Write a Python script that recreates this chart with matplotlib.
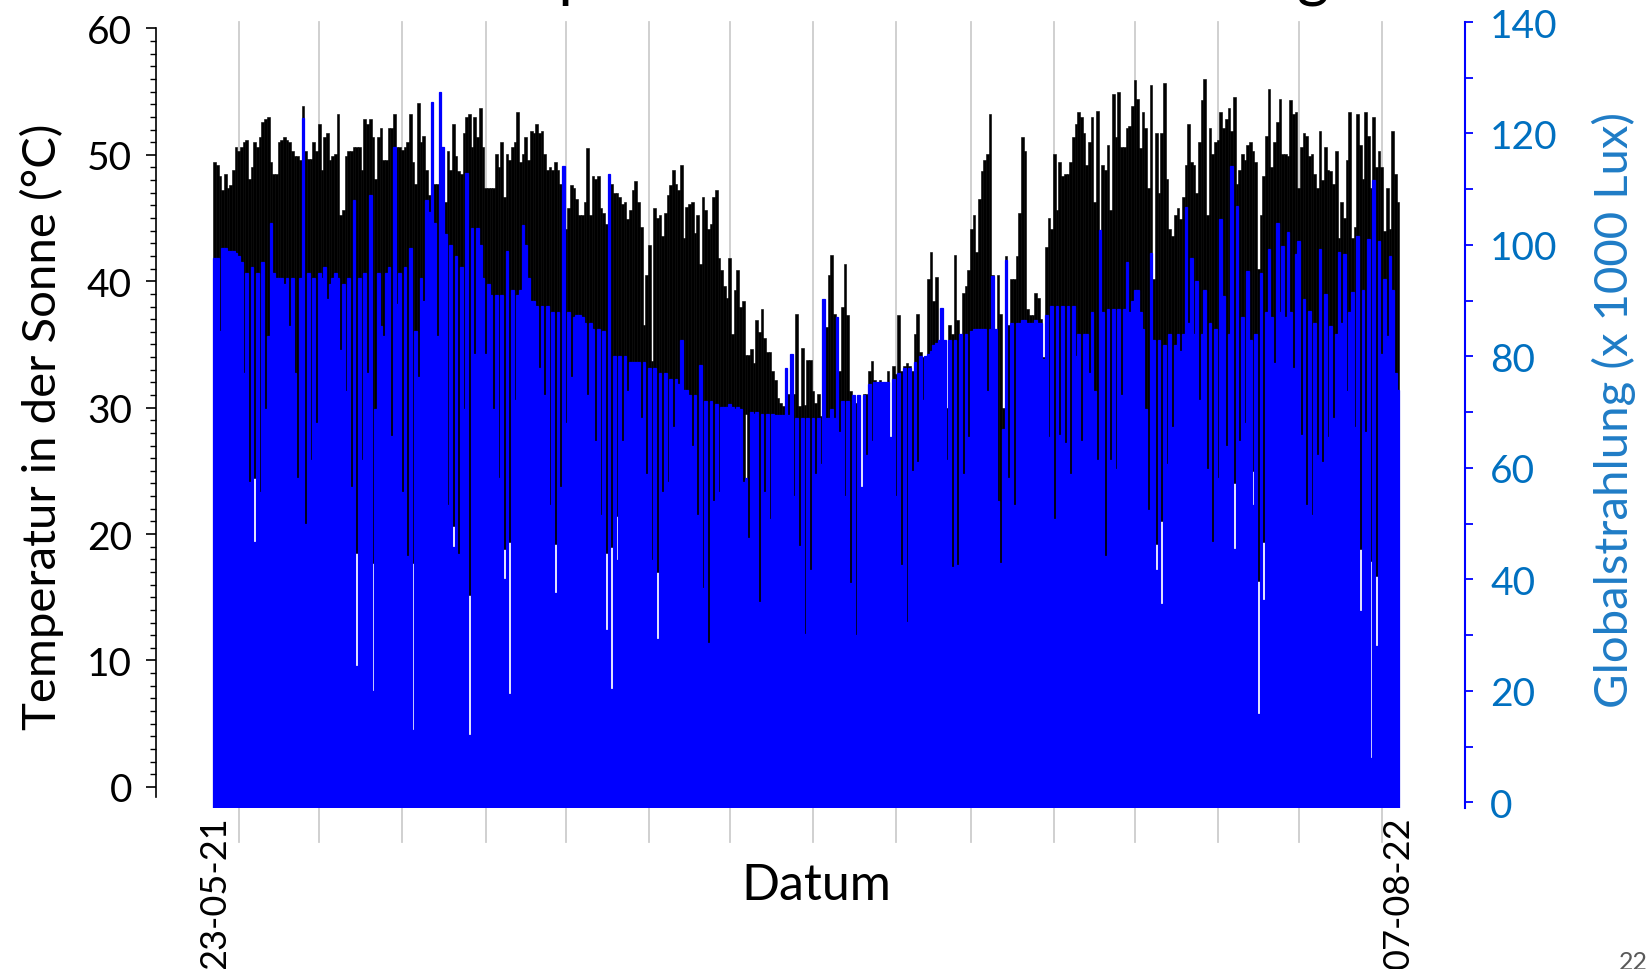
import numpy as np
import pandas as pd
import matplotlib
matplotlib.use('Agg')
import matplotlib.pyplot as plt
import matplotlib.dates as mdates
from matplotlib.ticker import MultipleLocator

# Tagesmaximum Temperatur in der Sonne (°C), 23-05-21 .. 07-08-22
tmax = [
    49.4, 49.2, 48.3, 47.2, 48.5, 47.4, 47.6, 48.8, 50.6, 50.3,
    50.6, 51.0, 51.2, 48.1, 49.0, 51.0, 50.6, 51.4, 52.6, 52.8,
    53.0, 49.4, 48.5, 48.5, 51.0, 51.2, 51.4, 51.2, 51.0, 50.3,
    49.9, 49.9, 49.6, 53.9, 50.3, 49.7, 49.7, 51.0, 50.3, 52.4,
    48.8, 51.4, 51.7, 49.6, 49.9, 50.1, 53.2, 45.2, 45.6, 49.9,
    50.3, 50.3, 50.6, 50.6, 50.6, 48.8, 52.8, 52.4, 52.8, 51.4,
    48.1, 51.4, 52.1, 49.6, 49.6, 52.1, 52.1, 53.2, 50.6, 50.6,
    50.4, 50.6, 51.0, 53.2, 49.4, 47.7, 54.1, 51.0, 51.5, 48.8,
    46.8, 48.8, 47.7, 47.7, 47.0, 47.0, 46.3, 50.3, 48.8, 52.4,
    49.9, 48.7, 48.5, 51.7, 53.0, 53.2, 50.6, 53.0, 51.4, 53.7,
    50.6, 47.4, 47.4, 47.4, 47.4, 50.1, 49.0, 51.0, 46.7, 50.1,
    49.6, 50.6, 51.0, 53.4, 49.4, 50.1, 51.4, 49.6, 51.9, 51.7,
    52.4, 51.7, 51.9, 50.1, 48.8, 49.0, 48.8, 49.4, 48.8, 47.7,
    46.7, 44.1, 45.8, 47.6, 47.4, 46.5, 45.2, 45.2, 46.3, 50.5,
    45.2, 48.3, 48.1, 48.3, 45.8, 45.4, 44.5, 41.9, 47.7, 47.0,
    47.0, 46.7, 46.1, 46.3, 44.9, 45.6, 47.2, 47.9, 46.3, 44.3,
    36.5, 40.5, 42.9, 33.7, 45.8, 45.0, 45.2, 43.6, 45.4, 46.8,
    47.6, 48.8, 47.7, 47.2, 49.2, 43.4, 45.9, 46.1, 46.3, 43.8,
    45.2, 41.4, 46.7, 45.6, 44.1, 44.5, 46.7, 47.2, 41.8, 40.9,
    39.6, 38.7, 41.8, 35.8, 39.3, 40.9, 38.0, 38.4, 34.2, 34.2,
    34.6, 33.5, 36.9, 36.0, 37.8, 35.5, 34.4, 34.4, 32.9, 32.2,
    30.8, 30.4, 30.1, 30.4, 31.1, 32.2, 31.1, 37.4, 30.1, 34.7,
    30.2, 33.8, 33.8, 31.3, 30.4, 31.1, 29.3, 30.8, 36.4, 40.5,
    42.1, 37.4, 31.1, 32.9, 38.0, 41.4, 37.3, 31.3, 30.8, 30.4,
    30.6, 23.0, 31.1, 31.1, 32.9, 33.7, 32.2, 32.0, 32.2, 32.0,
    31.8, 32.9, 27.0, 33.3, 32.7, 37.3, 32.9, 33.3, 33.5, 33.3,
    32.9, 35.8, 37.4, 34.4, 34.0, 33.7, 40.2, 42.3, 38.4, 40.3,
    34.4, 36.0, 35.3, 30.0, 36.5, 35.8, 42.1, 36.9, 35.5, 39.1,
    39.6, 40.9, 44.1, 45.2, 42.3, 46.5, 48.7, 49.6, 50.1, 53.2,
    40.5, 36.0, 40.5, 37.4, 30.0, 42.0, 36.5, 40.2, 40.2, 42.0,
    45.4, 51.4, 50.3, 37.8, 37.3, 37.3, 39.1, 38.7, 37.0, 34.0,
    42.7, 45.0, 44.1, 50.1, 45.6, 49.4, 48.3, 48.5, 48.5, 49.4,
    51.4, 52.4, 53.4, 53.0, 51.7, 49.2, 51.0, 53.0, 46.3, 53.5,
    39.3, 49.2, 48.8, 50.8, 45.6, 54.8, 51.4, 55.0, 50.6, 50.6,
    52.1, 52.3, 53.9, 55.9, 54.4, 50.5, 53.4, 52.1, 47.4, 55.5,
    40.2, 51.7, 47.0, 51.7, 55.7, 48.1, 44.1, 43.6, 45.2, 45.8,
    44.9, 46.7, 49.2, 52.4, 49.4, 49.2, 47.0, 51.0, 54.3, 56.0,
    45.2, 52.1, 50.1, 51.0, 51.2, 53.4, 52.1, 52.8, 53.7, 51.9,
    54.6, 47.7, 48.8, 50.1, 49.6, 50.8, 51.0, 50.3, 49.4, 41.0,
    45.2, 48.3, 51.5, 55.2, 49.0, 51.0, 52.6, 54.4, 50.1, 50.1,
    49.9, 54.3, 53.2, 53.4, 47.4, 50.6, 51.7, 51.5, 49.9, 50.1,
    48.5, 47.4, 51.9, 48.0, 50.6, 48.8, 48.7, 47.7, 50.3, 43.4,
    46.3, 45.0, 49.6, 53.4, 43.4, 44.3, 53.2, 50.8, 48.1, 53.4,
    51.5, 47.4, 53.0, 49.0, 50.3, 49.0, 44.0, 47.4, 44.1, 51.9,
    48.5, 46.3,
]

# Tagesmaximum Globalstrahlung (x 1000 Lux)
rmax = [
    97.7, 97.7, 84.5, 99.4, 99.5, 99.0, 99.0, 99.0, 98.5, 98.0,
    97.0, 77.1, 95.0, 57.4, 96.0, 46.7, 95.0, 55.7, 97.0, 70.5,
    83.7, 104.0, 95.0, 94.0, 94.0, 94.0, 93.0, 94.0, 85.4, 94.0,
    77.1, 58.2, 94.0, 122.8, 50.0, 95.0, 61.5, 94.0, 68.1, 95.0,
    94.0, 96.0, 90.3, 93.0, 94.0, 95.0, 94.0, 81.2, 93.0, 73.8,
    94.0, 56.6, 108.0, 24.5, 94.0, 61.5, 95.0, 77.1, 109.0, 19.9,
    70.5, 95.0, 85.4, 83.7, 95.0, 96.0, 65.7, 117.5, 89.5, 95.0,
    55.7, 96.0, 44.2, 99.4, 13.0, 84.5, 76.3, 94.0, 90.0, 108.0,
    106.0, 125.7, 104.0, 83.7, 127.5, 117.5, 102.0, 53.3, 100.0, 45.9,
    98.0, 44.6, 96.0, 70.5, 113.0, 12.1, 103.0, 80.4, 103.0, 100.0,
    94.0, 80.4, 93.0, 91.0, 70.5, 91.0, 58.2, 91.0, 40.0, 99.0,
    19.5, 92.0, 72.2, 91.0, 92.0, 103.5, 100.0, 94.0, 90.0, 90.0,
    89.0, 78.0, 89.0, 73.0, 89.0, 53.3, 88.0, 37.6, 88.0, 56.6,
    114.2, 68.1, 88.0, 76.3, 87.0, 87.5, 87.5, 87.0, 86.0, 73.0,
    86.0, 85.0, 64.8, 85.0, 51.6, 84.5, 31.0, 112.7, 20.3, 80.0,
    43.4, 80.0, 64.8, 80.0, 73.8, 79.0, 79.0, 79.0, 79.0, 69.0,
    79.0, 59.0, 78.0, 43.4, 78.0, 29.4, 77.0, 55.7, 77.0, 57.4,
    76.0, 67.3, 76.0, 75.0, 82.9, 74.0, 74.0, 73.0, 64.0, 73.0,
    51.6, 78.4, 38.4, 72.0, 28.6, 72.0, 54.0, 71.5, 55.7, 71.0,
    71.0, 71.0, 71.5, 71.0, 70.5, 71.0, 70.5, 57.4, 58.2, 47.5,
    70.0, 69.7, 70.0, 36.0, 69.7, 55.7, 69.7, 50.8, 69.7, 69.5,
    69.5, 69.5, 69.5, 78.0, 69.5, 80.4, 54.9, 69.0, 46.0, 69.0,
    30.2, 69.0, 41.7, 69.0, 59.0, 69.0, 60.7, 90.3, 69.0, 69.0,
    70.5, 69.0, 87.0, 66.4, 72.0, 54.9, 72.0, 39.3, 73.0, 30.0,
    73.0, 56.6, 73.0, 62.3, 75.0, 64.8, 75.5, 75.5, 75.5, 75.5,
    75.5, 75.5, 65.6, 76.0, 54.9, 77.0, 42.6, 78.0, 32.3, 78.0,
    59.4, 79.0, 61.1, 80.0, 72.2, 80.0, 80.5, 81.0, 82.0, 82.5,
    83.0, 88.7, 83.0, 61.5, 83.0, 42.2, 83.0, 42.6, 84.0, 59.0,
    84.0, 65.6, 84.5, 85.0, 85.0, 85.0, 85.0, 85.0, 73.8, 85.0,
    94.4, 85.0, 54.0, 43.0, 67.0, 97.3, 58.2, 86.0, 53.3, 86.0,
    86.0, 86.5, 86.5, 86.0, 86.0, 86.0, 86.5, 86.0, 86.0, 79.6,
    87.4, 65.6, 89.0, 50.8, 89.0, 66.0, 89.0, 64.4, 89.0, 59.0,
    89.0, 80.0, 84.0, 64.8, 84.0, 84.0, 77.0, 88.0, 73.8, 61.5,
    102.6, 88.0, 44.2, 88.5, 61.5, 88.5, 59.9, 88.5, 73.0, 88.5,
    96.9, 88.0, 90.0, 92.0, 92.0, 88.0, 85.0, 70.5, 52.4, 98.5,
    83.0, 41.7, 83.0, 35.6, 82.0, 60.7, 84.0, 67.3, 82.0, 84.0,
    81.0, 84.0, 106.8, 86.0, 97.7, 84.0, 93.5, 72.2, 84.0, 92.0,
    59.9, 86.0, 46.7, 85.0, 58.2, 104.7, 90.9, 64.0, 84.0, 114.2,
    45.4, 107.0, 64.8, 87.0, 68.0, 95.3, 83.0, 53.3, 84.0, 15.8,
    95.0, 36.4, 88.0, 99.3, 87.0, 78.8, 104.0, 88.0, 99.8, 87.0,
    102.3, 88.0, 78.0, 98.4, 100.7, 66.0, 90.3, 53.3, 88.2, 51.6,
    86.0, 62.3, 99.3, 61.1, 91.2, 65.6, 85.5, 68.9, 84.0, 98.8,
    86.0, 98.4, 73.8, 88.0, 91.5, 67.3, 101.6, 34.3, 92.0, 66.4,
    101.0, 8.0, 111.7, 28.1, 100.7, 80.4, 93.9, 83.7, 98.0, 92.0,
    77.0, 74.0,
]

# Tage mit Lücke (Nachttemperatur über der Strahlungskurve) und deren Minimum (°C)
gap_days = [15, 53, 59, 74, 89, 95, 108, 110, 127, 146, 148, 150, 165, 198,
            351, 353, 380, 387, 389, 391, 427, 431, 433]
gap_tmin = [24.4, 18.5, 17.7, 17.7, 20.6, 15.2, 18.8, 19.4, 19.2, 18.5, 19.0, 21.4, 17.0, 29.5,
            19.2, 21.0, 24.0, 25.0, 16.3, 19.4, 18.8, 17.9, 16.7]

dates = pd.date_range('2021-05-23', '2022-08-07', freq='D')
assert len(dates) == len(tmax) == len(rmax), (len(dates), len(tmax), len(rmax))

tmax = np.array(tmax)
rmax = np.array(rmax)
tmin = np.zeros(len(dates))
tmin[gap_days] = gap_tmin

plt.rcParams['font.family'] = ['Lato', 'DejaVu Sans']

W, H = 1647, 970
fig = plt.figure(figsize=(W / 100, H / 100), dpi=100)


def box(left, top, right, bottom):
    # Pixelrahmen -> Figurenkoordinaten
    return [left / W, 1 - bottom / H, (right - left) / W, (bottom - top) / H]


ax = fig.add_axes(box(155.5, 29.4, 1465, 798))
ax2 = fig.add_axes(box(155.5, 23, 1465, 809))
ax2.patch.set_visible(False)

xlim = (pd.Timestamp('2021-05-01'), pd.Timestamp('2022-09-01'))
r_floor = -1.0  # Unterkante der Strahlungsbalken (etwas unter 0)

# Monatslinien
for m in pd.date_range('2021-06-01', '2022-08-01', freq='MS'):
    ax.axvline(m, ymin=-0.0585, ymax=1.008, color='#cdcdcd', lw=1.3, zorder=0, clip_on=False)

ax.bar(dates, tmax - tmin, bottom=tmin, width=1.0, color='black',
       edgecolor='black', linewidth=0.4, zorder=2)
ax2.bar(dates, rmax - r_floor, bottom=r_floor, width=1.0, color='#0000ff',
        edgecolor='#0000ff', linewidth=0.9, zorder=2)

# linke Achse
ax.set_xlim(xlim)
ax.set_ylim(-0.8, 60)
ax.set_xticks([])
ax.set_yticks(range(0, 61, 10))
ax.yaxis.set_minor_locator(MultipleLocator(1))
ax.tick_params(axis='y', which='major', length=7, width=1.2, labelsize=28, pad=10)
ax.tick_params(axis='y', which='minor', length=4, width=1.0)
for s in ['top', 'right', 'bottom']:
    ax.spines[s].set_visible(False)
ax.spines['left'].set_linewidth(1.2)

# rechte Achse
ax2.set_xlim(xlim)
ax2.set_ylim(r_floor, 140)
ax2.yaxis.tick_right()
ax2.set_yticks(range(0, 141, 20))
ax2.yaxis.set_minor_locator(MultipleLocator(10))
ax2.tick_params(axis='y', which='both', colors='#0000ff', labelcolor='#0070C0',
                length=6, width=1.3, labelsize=28, pad=12)
for s in ['top', 'left', 'bottom']:
    ax2.spines[s].set_visible(False)
ax2.spines['right'].set_color('#0000ff')
ax2.spines['right'].set_linewidth(1.5)

ax2.set_xticks([dates[0], dates[-1]])
ax2.xaxis.set_major_formatter(mdates.DateFormatter('%d-%m-%y'))
ax2.tick_params(axis='x', length=0, pad=5, labelsize=26, labelrotation=90)

fig.text(0.0255, 0.56, 'Temperatur in der Sonne (°C)', rotation=90,
         ha='center', va='center', fontsize=34)
fig.text(0.980, 0.577, 'Globalstrahlung (x 1000 Lux)', rotation=90,
         ha='center', va='center', fontsize=34, color='#1f7cc6')
fig.text(0.4954, 0.0866, 'Datum', ha='center', va='center', fontsize=36)
fig.text(0.536, 1 + 6 / H, 'Temperatur und Globalstrahlung', ha='center',
         va='baseline', fontsize=45)
fig.text(0.992, 0.0196, '22', ha='center', va='top', fontsize=18, color='#595959')

fig.savefig('out.png', dpi=100)
